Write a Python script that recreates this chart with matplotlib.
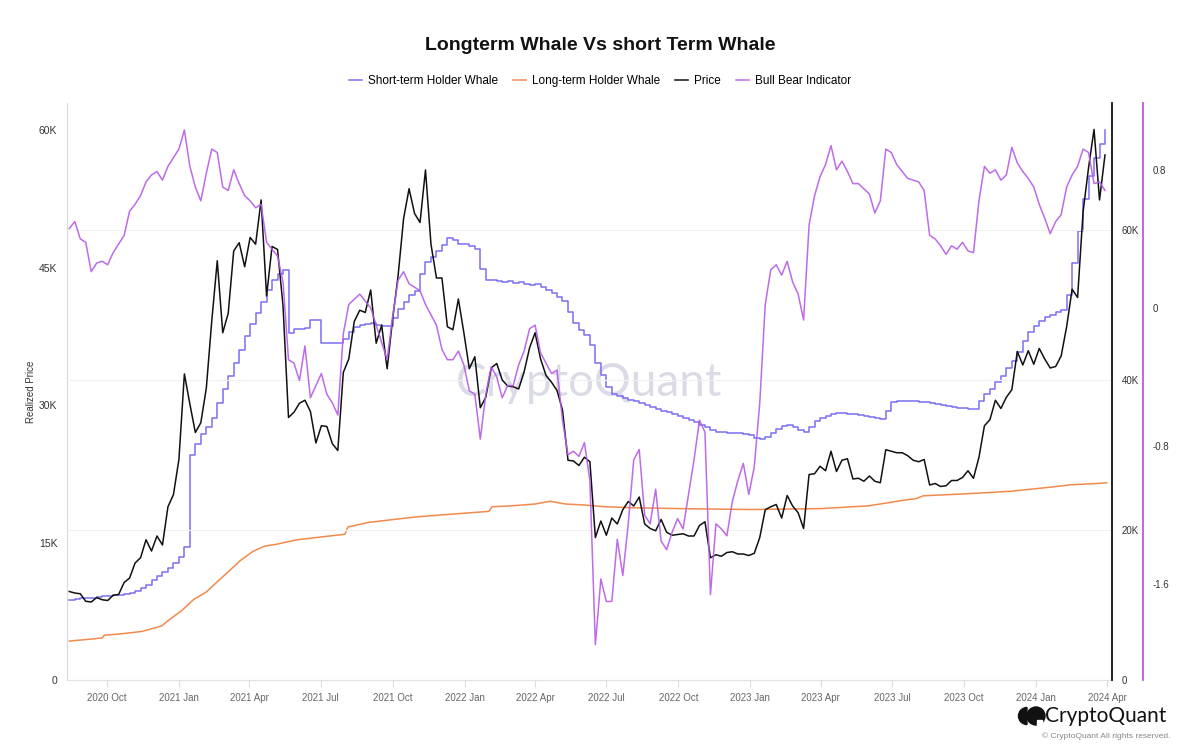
import matplotlib
matplotlib.use('Agg')
import matplotlib.pyplot as plt
import matplotlib.dates as mdates
from matplotlib.patches import Wedge, Circle, Rectangle
import pandas as pd

plt.rcParams['font.family'] = ['Liberation Sans', 'DejaVu Sans']

# weekly samples (Fridays) from 2020-08-14 to 2024-03-29
weeks = pd.date_range('2020-08-14', periods=190, freq='7D')

# BTC price (USD, thousands)
price_k = [
    11.8, 11.6, 11.5, 10.5, 10.4, 11.0, 10.7, 10.6, 11.3, 11.4,
    13.0, 13.6, 15.6, 16.3, 18.7, 17.2, 19.2, 18.0, 23.1, 24.7,
    29.4, 40.8, 36.8, 33.0, 34.3, 38.9, 47.9, 55.9, 46.3, 48.9,
    57.2, 58.3, 55.1, 59.0, 58.1, 64.0, 51.2, 57.8, 57.4, 49.9,
    35.0, 35.7, 36.9, 37.3, 35.8, 31.6, 33.9, 33.8, 31.5, 30.6,
    41.0, 42.8, 47.8, 49.3, 49.0, 52.0, 44.9, 47.3, 41.5, 48.1,
    53.9, 61.5, 65.5, 62.2, 61.0, 68.0, 58.1, 53.6, 53.6, 47.1,
    46.7, 50.8, 46.3, 41.5, 43.1, 36.3, 37.7, 41.6, 42.2, 40.0,
    39.2, 39.1, 38.8, 41.1, 44.3, 46.3, 42.8, 40.6, 39.7, 38.6,
    36.0, 29.3, 29.2, 28.6, 29.7, 29.1, 19.0, 21.2, 19.3, 21.6,
    20.8, 22.7, 23.8, 23.2, 24.4, 20.8, 20.2, 19.9, 21.4, 19.7,
    19.3, 19.4, 19.5, 19.2, 19.2, 20.6, 21.1, 16.3, 16.7, 16.5,
    17.0, 17.1, 16.8, 16.8, 16.6, 16.9, 19.0, 22.7, 23.1, 23.4,
    21.6, 24.6, 23.2, 22.3, 20.2, 27.4, 27.5, 28.5, 27.9, 30.5,
    27.8, 29.3, 29.5, 26.8, 26.9, 26.5, 27.2, 26.5, 26.3, 30.7,
    30.5, 30.3, 30.3, 29.9, 29.3, 29.1, 29.4, 26.0, 26.2, 25.8,
    25.9, 26.6, 26.6, 27.0, 27.9, 26.9, 29.7, 33.9, 34.7, 37.3,
    36.2, 37.7, 38.7, 43.8, 42.0, 43.9, 42.1, 44.2, 42.8, 41.6,
    41.8, 43.2, 47.1, 52.1, 51.0, 62.4, 68.3, 73.4, 64.0, 70.0,
]

# Bull Bear Indicator
bull_bear = [
    0.46, 0.50, 0.40, 0.38, 0.21, 0.26, 0.27, 0.25, 0.32, 0.37,
    0.42, 0.56, 0.60, 0.65, 0.73, 0.77, 0.79, 0.74, 0.82, 0.87,
    0.92, 1.03, 0.82, 0.70, 0.62, 0.78, 0.92, 0.90, 0.70, 0.68,
    0.80, 0.72, 0.65, 0.62, 0.58, 0.60, 0.38, 0.34, 0.30, 0.15,
    -0.30, -0.32, -0.42, -0.22, -0.52, -0.45, -0.38, -0.50, -0.55, -0.62,
    -0.15, 0.02, 0.05, 0.08, 0.04, 0.00, -0.10, -0.20, -0.30, -0.05,
    0.16, 0.21, 0.14, 0.12, 0.10, 0.02, -0.04, -0.10, -0.24, -0.30,
    -0.30, -0.25, -0.33, -0.48, -0.50, -0.76, -0.50, -0.34, -0.40, -0.52,
    -0.45, -0.45, -0.33, -0.25, -0.12, -0.10, -0.26, -0.32, -0.38, -0.36,
    -0.65, -0.85, -0.83, -0.86, -0.78, -1.00, -1.95, -1.57, -1.70, -1.70,
    -1.34, -1.55, -1.25, -0.88, -0.82, -1.20, -1.25, -1.05, -1.35, -1.40,
    -1.30, -1.22, -1.28, -1.08, -0.88, -0.65, -0.72, -1.66, -1.25, -1.28,
    -1.32, -1.12, -1.00, -0.90, -1.08, -0.92, -0.55, 0.02, 0.22, 0.25,
    0.19, 0.27, 0.15, 0.08, -0.07, 0.48, 0.65, 0.76, 0.83, 0.94,
    0.80, 0.85, 0.79, 0.72, 0.72, 0.69, 0.66, 0.55, 0.62, 0.92,
    0.90, 0.83, 0.79, 0.75, 0.74, 0.73, 0.68, 0.42, 0.40, 0.36,
    0.31, 0.36, 0.34, 0.38, 0.33, 0.32, 0.62, 0.82, 0.78, 0.80,
    0.74, 0.77, 0.93, 0.84, 0.79, 0.75, 0.70, 0.60, 0.52, 0.43,
    0.50, 0.54, 0.70, 0.77, 0.82, 0.92, 0.90, 0.72, 0.73, 0.68,
]

# Short-term holder whale realized price (thousands)
sth_k = [
    8.7, 8.8, 8.9, 9.0, 9.0, 9.1, 9.2, 9.2, 9.3, 9.3,
    9.4, 9.5, 9.7, 10.0, 10.4, 10.9, 11.3, 11.8, 12.2, 12.8,
    13.4, 14.5, 24.5, 25.8, 26.8, 27.6, 28.6, 30.2, 31.8, 33.2,
    34.6, 36.0, 37.5, 38.8, 40.0, 41.2, 42.6, 43.6, 44.3, 44.7,
    37.9, 38.3, 38.3, 38.4, 39.3, 39.3, 36.8, 36.8, 36.8, 36.8,
    37.2, 38.0, 38.5, 38.7, 38.8, 38.9, 38.7, 38.6, 38.6, 39.5,
    40.5, 41.2, 42.0, 42.4, 44.3, 45.6, 46.2, 46.8, 47.5, 48.2,
    48.0, 47.6, 47.6, 47.4, 47.0, 44.8, 43.6, 43.6, 43.5, 43.4,
    43.5, 43.3, 43.4, 43.2, 43.1, 43.2, 42.9, 42.6, 42.2, 41.8,
    41.3, 40.2, 39.0, 38.2, 37.6, 36.5, 34.6, 33.3, 32.0, 31.2,
    31.0, 30.8, 30.6, 30.4, 30.2, 30.0, 29.8, 29.6, 29.4, 29.2,
    29.0, 28.8, 28.6, 28.4, 28.1, 27.8, 27.6, 27.3, 27.1, 27.1,
    27.0, 27.0, 26.9, 26.8, 26.7, 26.4, 26.3, 26.5, 27.0, 27.4,
    27.7, 27.8, 27.6, 27.3, 27.1, 27.6, 28.3, 28.6, 28.8, 29.0,
    29.1, 29.1, 29.0, 29.0, 28.9, 28.8, 28.7, 28.6, 28.5, 29.4,
    30.3, 30.4, 30.4, 30.4, 30.4, 30.3, 30.3, 30.2, 30.1, 30.0,
    29.9, 29.8, 29.7, 29.7, 29.6, 29.6, 30.4, 31.2, 31.8, 32.5,
    33.2, 34.0, 34.8, 35.8, 37.0, 38.0, 38.6, 39.2, 39.6, 39.8,
    40.1, 40.4, 42.0, 45.5, 49.0, 52.5, 55.0, 57.0, 58.5, 60.0,
]

# Long-term holder whale realized price (thousands)
lth_dates = pd.to_datetime([
    '2020-08-14', '2020-09-15', '2020-09-25', '2020-09-28', '2020-10-15',
    '2020-11-15', '2020-12-10', '2020-12-20', '2021-01-05', '2021-01-20',
    '2021-02-05', '2021-02-20', '2021-03-05', '2021-03-20', '2021-04-05',
    '2021-04-20', '2021-05-05', '2021-06-01', '2021-07-01', '2021-08-01',
    '2021-08-05', '2021-09-01', '2021-10-01', '2021-11-01', '2021-12-01',
    '2022-01-01', '2022-02-01', '2022-02-05', '2022-03-01', '2022-04-01',
    '2022-04-20', '2022-05-10', '2022-06-01', '2022-07-01', '2022-08-01',
    '2022-10-01', '2023-01-01', '2023-04-01', '2023-06-01', '2023-07-15',
    '2023-08-01', '2023-08-10', '2023-10-01', '2023-12-01', '2024-01-15',
    '2024-02-15', '2024-03-31',
])
lth_k = [
    4.25, 4.5, 4.6, 4.9, 5.0,
    5.3, 5.9, 6.6, 7.6, 8.8,
    9.6, 10.8, 11.8, 13.0, 14.0,
    14.6, 14.8, 15.3, 15.6, 15.9,
    16.7, 17.2, 17.5, 17.8, 18.0,
    18.2, 18.4, 18.9, 19.0, 19.2,
    19.5, 19.2, 19.1, 18.9, 18.8,
    18.7, 18.6, 18.7, 19.0, 19.6,
    19.8, 20.1, 20.3, 20.6, 21.0,
    21.3, 21.5,
]

price = [v * 1000 for v in price_k]
sth = [v * 1000 for v in sth_k]
lth = [v * 1000 for v in lth_k]

c_sth = '#7b6ff2'
c_lth = '#f28a4c'
c_price = '#111111'
c_bb = '#b65be6'

fig = plt.figure(figsize=(12, 7.56), dpi=100)
ax = fig.add_axes([0.0558, 0.1005, 0.8709, 0.7633])
ax_p = ax.twinx()
ax_b = ax.twinx()
ax_b.spines['right'].set_position(('outward', 22.5))

ax.text(0.5, 0.515, 'CryptoQuant', transform=ax.transAxes, fontsize=33,
        color='#dadbe6', ha='center', va='center', family='Lato', zorder=0)

l1, = ax.plot(weeks, sth, color=c_sth, lw=1.1, drawstyle='steps-post')
l2, = ax.plot(lth_dates, lth, color=c_lth, lw=1.1)
ax_p.grid(axis='y', color='#f1f1f1', lw=0.8)
ax_p.set_axisbelow(True)
l3, = ax_p.plot(weeks, price, color=c_price, lw=1.1)
l4, = ax_b.plot(weeks, bull_bear, color=c_bb, lw=1.1, alpha=0.9)

ax.set_xlim(pd.Timestamp('2020-08-11'), pd.Timestamp('2024-04-07'))
ax.set_ylim(0, 62950)
ax_p.set_ylim(0, 76930)
ax_b.set_ylim(-2.155, 1.187)

ax.set_yticks([0, 15000, 30000, 45000, 60000])
ax.set_yticklabels(['0', '15K', '30K', '45K', '60K'])
ax_p.set_yticks([0, 20000, 40000, 60000])
ax_p.set_yticklabels(['0', '20K', '40K', '60K'])
ax_b.set_yticks([-1.6, -0.8, 0, 0.8])
ax_b.set_yticklabels(['-1.6', '-0.8', '0', '0.8'])

ax.xaxis.set_major_locator(mdates.MonthLocator(bymonth=[1, 4, 7, 10]))
ax.xaxis.set_major_formatter(mdates.DateFormatter('%Y %b'))

ax.tick_params(axis='x', length=5, color='#dcdcdc', labelsize=7,
               labelcolor='#666666', pad=4)
ax.tick_params(axis='y', length=0, labelsize=7.5, labelcolor='#333333', pad=7)
ax_p.tick_params(axis='y', length=0, labelsize=7, labelcolor='#333333', pad=7)
ax_b.tick_params(axis='y', length=0, labelsize=7, labelcolor='#333333', pad=7)

ax.set_ylabel('Realized Price', fontsize=7, color='#333333', labelpad=2)

for side in ['top', 'right']:
    ax.spines[side].set_visible(False)
ax.spines['left'].set_color('#d6d6e4')
ax.spines['bottom'].set_color('#e2e2e2')
for a in (ax_p, ax_b):
    for side in ['top', 'left', 'bottom']:
        a.spines[side].set_visible(False)
ax_p.spines['right'].set_color('#111111')
ax_p.spines['right'].set_linewidth(1.3)
ax_b.spines['right'].set_color(c_bb)
ax_b.spines['right'].set_linewidth(1.3)

fig.text(0.5, 0.940, 'Longterm Whale Vs short Term Whale', ha='center',
         va='center', fontsize=14, fontweight='bold', color='#111111')

fig.legend([l1, l2, l3, l4],
           ['Short-term Holder Whale', 'Long-term Holder Whale', 'Price',
            'Bull Bear Indicator'],
           loc='center', bbox_to_anchor=(0.5, 0.893), ncol=4, frameon=False,
           fontsize=8.5, handlelength=1.1, handletextpad=0.5, columnspacing=1.3)

# CryptoQuant logo, bottom right
tr = fig.dpi_scale_trans
fig.add_artist(Wedge((10.27, 0.40), 0.085, 90, 270, color='#111111', transform=tr))
fig.add_artist(Circle((10.36, 0.40), 0.09, color='#111111', transform=tr))
fig.add_artist(Rectangle((10.37, 0.31), 0.05, 0.05, color='white', transform=tr))
fig.text(1045 / 1200, 1 - 716 / 756, 'CryptoQuant', ha='left', va='center',
         fontsize=15, family='Lato', color='#111111')
fig.text(1170 / 1200, 1 - 736 / 756, '\u00a9 CryptoQuant All rights reserved.',
         ha='right', va='center', fontsize=6, color='#888888')

fig.savefig('out.png', dpi=100)
